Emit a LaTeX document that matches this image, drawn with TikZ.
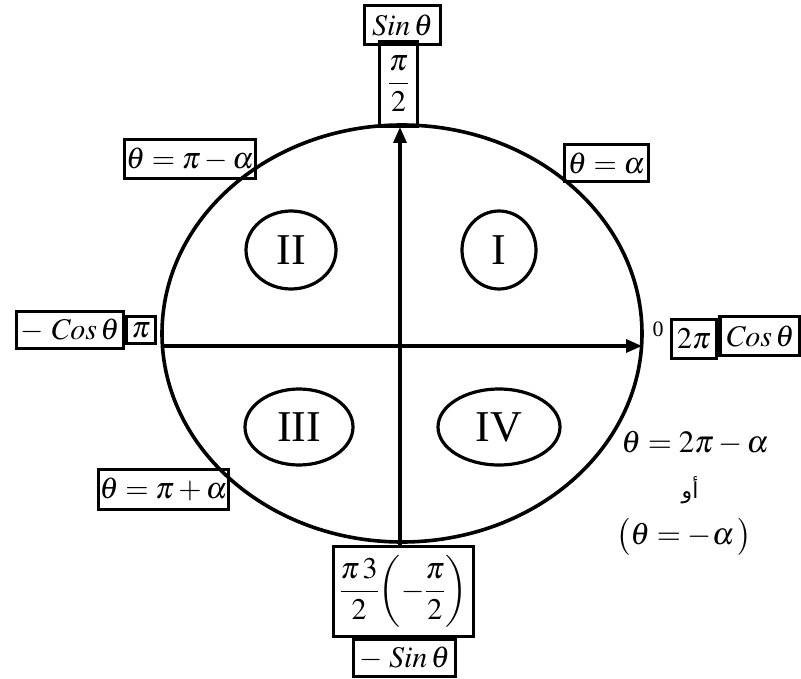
\documentclass[tikz,border=0pt]{standalone}
\usepackage{mathptmx}
\usepackage{fontspec}
\setmainfont{Liberation Serif}
\newfontfamily\arabicfont[Script=Arabic]{DejaVu Sans}
\TeXXeTstate=1
\usetikzlibrary{shapes.geometric,arrows.meta}
\tikzset{
  lbl/.style={draw, rectangle, line width=3.4pt, inner sep=0pt, font=\fontsize{30}{32}\selectfont},
  quad/.style={draw, ellipse, line width=3.2pt, inner sep=0pt, font=\fontsize{44}{46}\selectfont},
  axis/.style={line width=3.4pt, -{Triangle[length=16pt,width=13pt]}},
  free/.style={inner sep=0pt, font=\fontsize{31}{33}\selectfont}
}
\begin{document}
\begin{tikzpicture}[x=1pt,y=1pt]
\useasboundingbox (0,0) rectangle (801,-679);
% main circle
\node[draw, ellipse, line width=3.6pt, minimum width=480pt, minimum height=417pt, inner sep=0pt] (circ) at (402,-333.5) {};
% label boxes
\node[lbl, minimum width=76pt, minimum height=39pt] (sin) at (402.5,-25) {$\mathit{Sin}\,\theta$};
\node[lbl, minimum width=38pt, minimum height=84pt] (pihalf) at (398.5,-84) {$\displaystyle\frac{\pi}{2}$};
\node[lbl, minimum width=131pt, minimum height=39pt] (pma) at (190,-159) {$\theta=\pi-\alpha$};
\node[lbl, minimum width=84pt, minimum height=37pt] (alp) at (606.5,-163) {$\theta=\alpha$};
\node[lbl, minimum width=107pt, minimum height=37pt] (mcos) at (70,-330) {$-\;\mathit{Cos}\,\theta$};
\node[lbl, minimum width=29pt, minimum height=27pt] (pi) at (141,-330) {$\pi$};
\node[lbl, minimum width=45pt, minimum height=39pt] (twopi) at (694,-339) {$2\pi$};
\node[lbl, minimum width=80pt, minimum height=39pt] (cos) at (760,-336) {$\mathit{Cos}\,\theta$};
\node[lbl, minimum width=130pt, minimum height=40pt] (ppa) at (163.5,-489.5) {$\theta=\pi+\alpha$};
\node[lbl, minimum width=140pt, minimum height=90pt] (bot) at (403.5,-591.5) {$\displaystyle\frac{\pi\,3}{2}\biggl(-\frac{\pi}{2}\biggr)$};
\node[lbl, minimum width=102pt, minimum height=37pt] (msin) at (404.5,-658) {$-\;\mathit{Sin}\,\theta$};
% axes
\coordinate (hl) at (162,-346);
\coordinate (hr) at (642,-346);
\coordinate (vt) at (400,-127);
\coordinate (vb) at (400,-545);
\draw[axis] (hl) -- (hr);
\draw[axis] (vb) -- (vt);
% quadrant labels
\node[quad, minimum width=90pt, minimum height=78pt] (q2) at (291,-250) {II};
\node[quad, minimum width=74pt, minimum height=78pt] (q1) at (499,-250) {I};
\node[quad, minimum width=108pt, minimum height=76pt] (q3) at (299,-427) {III};
\node[quad, minimum width=122pt, minimum height=76pt] (q4) at (499,-427) {IV};
% free texts
\node[inner sep=0pt, font=\fontsize{22}{24}\selectfont] (zero) at (658,-329) {0};
\node[free] (t1) at (695,-443) {$\theta=2\pi-\alpha$};
\node[inner sep=0pt, font=\fontsize{22}{24}\selectfont] (t2) at (690,-490) {\arabicfont\beginR أو\endR};
\node[free] (t3) at (684,-537) {$\bigl(\theta=-\alpha\,\bigr)$};
\end{tikzpicture}
\end{document}
